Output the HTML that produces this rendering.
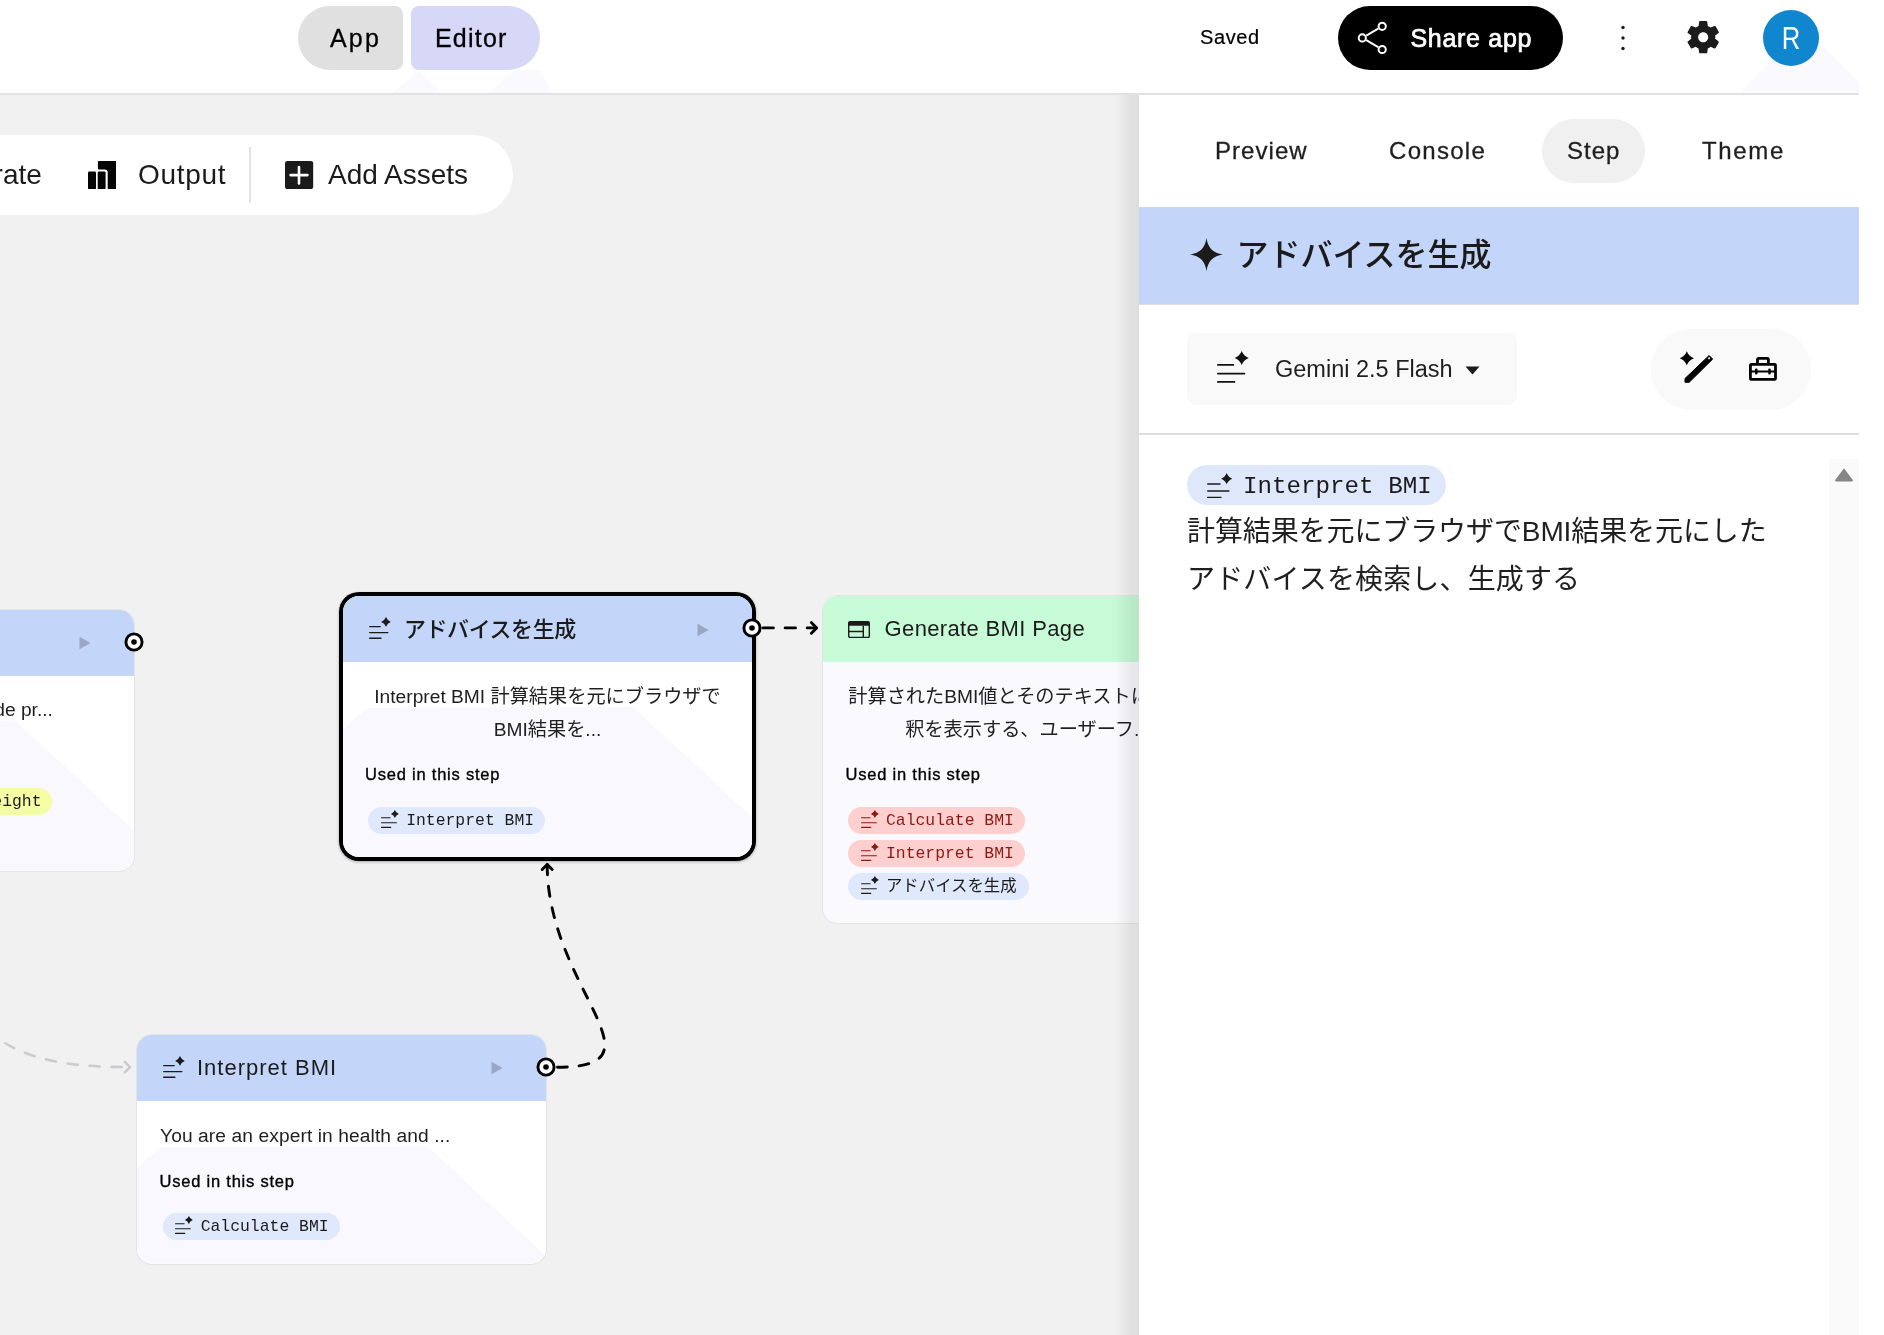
<!DOCTYPE html>
<html lang="ja">
<head>
<meta charset="utf-8">
<title>Opal Editor</title>
<style>
*{box-sizing:border-box;margin:0;padding:0}
html,body{width:1884px;height:1335px;overflow:hidden;background:#fff}
body{font-family:"Liberation Sans","Noto Sans CJK JP",sans-serif;color:#1b1b1b;position:relative}
.abs{position:absolute}
#stage{will-change:transform;position:absolute;left:0;top:0;width:1859px;height:1335px;overflow:hidden;background:#f1f1f1}
#header{position:absolute;left:0;top:0;width:1859px;height:95px;background:#fff;border-bottom:2px solid #e2e2e2;z-index:20}
.t{position:absolute;white-space:nowrap;line-height:1}
.mono{font-family:"Liberation Mono","Noto Sans CJK JP",monospace}
/* header */
#btn-app{left:298px;top:6px;width:105px;height:64px;background:#e0e0e0;border-radius:32px 8px 8px 32px}
#btn-editor{left:411px;top:6px;width:129px;height:64px;background:#d7d7f8;border-radius:8px 32px 32px 8px}
#btn-share{left:1338px;top:6px;width:225px;height:64px;background:#000;border-radius:32px}
#avatar{left:1763px;top:10px;width:56px;height:56px;border-radius:50%;background:#1086cf}
/* toolbar */
#toolbar{left:-60px;top:135px;width:573px;height:80px;border-radius:40px;background:#fff}
/* nodes */
.node{position:absolute;background:#fff;border-radius:15px;overflow:hidden;box-shadow:0 0 0 1px #e4e4e8}
.node .hd{position:absolute;left:0;top:0;right:0;height:66px}
.lav{position:absolute;left:0;top:0;width:100%;height:100%;background:#f8f8fe;clip-path:polygon(0 133px,24px 112px,calc(100% - 119px) 111px,100% 221px,100% 100%,0 100%)}
.blue{background:#c3d5f8}
.green{background:#c7fad6}
.chip{position:absolute;height:27px;border-radius:13.5px;background:#e0e9fc}
.chip.red{background:#fdcfcf;color:#8c1a12}
.chip .t{font-size:16.400px;top:6px}
.used{font-size:16.5px;color:#000;-webkit-text-stroke:0.35px #000;letter-spacing:0.78px}
.body-t{font-size:19.200px;color:#1f1f1f}
.title{font-size:22px;color:#1b1b1b;font-weight:500}
/* panel */
.tab{font-size:24px;color:#1f1f1f;-webkit-text-stroke:0.3px #1f1f1f}
#panel{position:absolute;left:1139px;top:95px;width:720px;height:1240px;background:#fff;z-index:10;}
</style>
</head>
<body>
<svg width="0" height="0" style="position:absolute">
  <defs>
    <symbol id="gen" viewBox="0 0 32 32">
      <path d="M0.950 13.900H16.300M0.950 22.600H27.400M0.950 30.900H17.400" stroke="currentColor" stroke-width="1.900" stroke-linecap="round" fill="none"/>
      <path d="M24.700 0.100Q26.600 5.200 31.700 7.100Q26.600 9 24.700 14.100Q22.800 9 17.700 7.100Q22.800 5.200 24.700 0.100z" fill="currentColor"/>
    </symbol>
    <symbol id="play" viewBox="0 0 12 14">
      <path d="M0.500 0.800L11.500 7L0.500 13.200z" fill="currentColor"/>
    </symbol>
    <symbol id="port" viewBox="0 0 20 20">
      <circle cx="10" cy="10" r="8.100" fill="#fff" stroke="#000" stroke-width="2.900"/>
      <circle cx="10" cy="10" r="2.800" fill="#000"/>
    </symbol>
  </defs>
</svg>

<div id="stage">
  <!-- CANVAS -->
  <div id="toolbar" class="abs"></div>
  <div class="t" style="left:-22px;top:161px;font-size:28px;">erate</div>
  <svg class="abs" style="left:87.500px;top:161px" width="28.500" height="28.300" viewBox="0 0 28.500 28.300" fill="#050505"><rect x="0" y="10.500" width="8" height="17.800" rx="1.200"/><rect x="9.700" y="10.500" width="7.900" height="17.800" rx="1.200"/><path d="M10.900 0H27.500a1 1 0 0 1 1 1V27.300a1 1 0 0 1-1 1H20.700a1 1 0 0 1-1-1V11.600a3 3 0 0 0-3-3H10.900a1 1 0 0 1-1-1V1a1 1 0 0 1 1-1z"/></svg>
  <div class="t" style="left:138px;top:161px;font-size:28px;letter-spacing:0.7px">Output</div>
  <div class="abs" style="left:248.500px;top:147px;width:2px;height:56px;background:#e2e2e2"></div>
  <svg class="abs" style="left:285.400px;top:161px" width="28.200" height="28.100" viewBox="0 0 28.200 28.100"><rect width="28.200" height="28.100" rx="2.300" fill="#1a1a1a"/><path d="M14 6v16.400M5.600 14.100h16.900" stroke="#fff" stroke-width="2.600" stroke-linecap="round"/></svg>
  <div class="t" style="left:328px;top:161px;font-size:28px;">Add Assets</div>

  <!-- edges -->
  <svg class="abs" style="left:0;top:0" width="1859" height="1335" viewBox="0 0 1859 1335" fill="none" stroke-linecap="round" stroke-linejoin="round">
    <g stroke="#cbcbcf" stroke-width="2.600">
      <path d="M129.800 1067.100C68 1067.100 0 1060.600 -30 1007.400" stroke-dasharray="10.200 11.800" stroke-dashoffset="13.900"/>
      <path d="M124.800 1061.900L130 1067.100L124.800 1072.300"/>
    </g>
    <g stroke="#000" stroke-width="2.900">
      <path d="M763 627.900H816.500" stroke-dasharray="10.400 11.700"/>
      <path d="M811.400 622.600L816.600 627.900L811.400 633.200"/>
      <path d="M547.200 864.500C547.200 988 669.500 1067.200 557.500 1067.200" stroke-dasharray="10.100 11.680"/>
      <path d="M542.200 869.500L547.200 864.500L552.200 869.500"/>
    </g>
  </svg>

  <!-- left node -->
  <div class="node" style="left:-276px;top:609.600px;width:410px;height:261px">
    <div class="lav"></div><div class="hd blue"></div>
    <svg class="abs" style="left:354.800px;top:26px;color:#9aa7c4" width="12" height="14"><use href="#play"/></svg>
    <div class="t body-t" style="left:266px;top:90px">ide pr...</div>
    <div class="chip" style="left:200px;top:178px;width:128px;background:#f5fda4"><span class="t mono" style="left:58.500px">weight</span></div>
  </div>
  <svg class="abs" style="left:123.800px;top:632.300px" width="20" height="20"><use href="#port"/></svg>

  <!-- selected node -->
  <div class="abs" style="left:339px;top:592px;width:417px;height:269px;border-radius:20px;background:#000;box-shadow:0 1px 3px rgba(0,0,0,0.3)"></div>
  <div class="node" style="left:343px;top:596px;width:409px;height:261px;box-shadow:none;border-radius:16px">
    <div class="lav"></div><div class="hd blue"></div>
    <svg class="abs" style="left:26px;top:21px;color:#1b1b1b" width="22" height="22"><use href="#gen"/></svg>
    <div class="t title" style="left:61px;top:22.500px;letter-spacing:-0.45px">アドバイスを生成</div>
    <svg class="abs" style="left:354px;top:26.500px;color:#9aa7c4" width="12" height="14"><use href="#play"/></svg>
    <div class="t body-t" style="left:0;width:409px;text-align:center;top:91px">Interpret BMI 計算結果を元にブラウザで</div>
    <div class="t body-t" style="left:0;width:409px;text-align:center;top:124px">BMI結果を...</div>
    <div class="t used" style="left:22px;top:170px">Used in this step</div>
    <div class="chip" style="left:25px;top:211px;width:177px">
      <svg class="abs" style="left:12.900px;top:3.100px" width="18" height="18"><use href="#gen"/></svg>
      <span class="t mono" style="left:38.200px">Interpret BMI</span>
    </div>
  </div>
  <svg class="abs" style="left:741.700px;top:617.900px" width="20" height="20"><use href="#port"/></svg>

  <!-- generate page node -->
  <div class="node" style="left:822.600px;top:596px;width:410px;height:327px">
    <div class="lav" style="clip-path:none;background:#f9f9fe"></div><div class="hd green"></div>
    <svg class="abs" style="left:25.400px;top:24.800px" width="22" height="17.200" viewBox="0 0 22 17.200"><rect x="0.700" y="0.700" width="20.600" height="15.800" rx="1.400" fill="none" stroke="#1b1b1b" stroke-width="1.400"/><path d="M0.700 0.700h20.600v4.100H0.700z" fill="#1b1b1b"/><path d="M0.700 10.500H15.300M15.300 4.800V16.500" stroke="#1b1b1b" stroke-width="1.400"/></svg>
    <div class="t title" style="left:62px;top:22px;letter-spacing:0.35px">Generate BMI Page</div>
    <div class="t body-t" style="left:0;width:410px;text-align:center;top:91px">計算されたBMI値とそのテキストによる解</div>
    <div class="t body-t" style="left:0;width:410px;text-align:center;top:124px">釈を表示する、ユーザーフ...</div>
    <div class="t used" style="left:23px;top:170px">Used in this step</div>
    <div class="chip red" style="left:25.200px;top:211px;width:177.500px">
      <svg class="abs" style="left:12.900px;top:3.100px" width="18" height="18"><use href="#gen"/></svg>
      <span class="t mono" style="left:38.200px">Calculate BMI</span>
    </div>
    <div class="chip red" style="left:25.200px;top:244px;width:177.500px">
      <svg class="abs" style="left:12.900px;top:3.100px" width="18" height="18"><use href="#gen"/></svg>
      <span class="t mono" style="left:38.200px">Interpret BMI</span>
    </div>
    <div class="chip" style="left:25.200px;top:277px;width:181px">
      <svg class="abs" style="left:12.900px;top:3.100px" width="18" height="18"><use href="#gen"/></svg>
      <span class="t mono" style="left:38.200px">アドバイスを生成</span>
    </div>
  </div>

  <!-- interpret node -->
  <div class="node" style="left:136.500px;top:1035px;width:409.500px;height:228.600px">
    <div class="lav"></div><div class="hd blue"></div>
    <svg class="abs" style="left:26px;top:21px;color:#1b1b1b" width="22" height="22"><use href="#gen"/></svg>
    <div class="t title" style="left:60.500px;top:22px;letter-spacing:1px">Interpret BMI</div>
    <svg class="abs" style="left:354.800px;top:26px;color:#9aa7c4" width="12" height="14"><use href="#play"/></svg>
    <div class="t body-t" style="left:23.500px;top:91px;letter-spacing:0.09px">You are an expert in health and ...</div>
    <div class="t used" style="left:23px;top:138px">Used in this step</div>
    <div class="chip" style="left:26px;top:178px;width:177px">
      <svg class="abs" style="left:12.900px;top:3.100px" width="18" height="18"><use href="#gen"/></svg>
      <span class="t mono" style="left:38.200px">Calculate BMI</span>
    </div>
  </div>
  <svg class="abs" style="left:535.900px;top:1057.100px" width="20" height="20"><use href="#port"/></svg>

  <div class="abs" style="left:1112px;top:95px;width:27px;height:1240px;z-index:9;background:linear-gradient(to right,rgba(0,0,0,0),rgba(0,0,0,0.012) 20%,rgba(0,0,0,0.04) 45%,rgba(0,0,0,0.065) 70%,rgba(0,0,0,0.078) 100%)"></div>
  <!-- SIDE PANEL -->
  <div id="panel">
    <!-- tabs (coords relative to panel: x-1139, y-95) -->
    <div class="abs" style="left:403px;top:24px;width:102.800px;height:64px;border-radius:32px;background:#f0f0f0"></div>
    <div class="t tab" style="left:76px;top:44px;letter-spacing:1.05px">Preview</div>
    <div class="t tab" style="left:250px;top:44px;letter-spacing:1.3px">Console</div>
    <div class="t tab" style="left:428px;top:44px;letter-spacing:1px">Step</div>
    <div class="t tab" style="left:563px;top:44px;letter-spacing:1.65px">Theme</div>
    <!-- title bar -->
    <div class="abs" style="left:0;top:112px;width:720px;height:97.800px;background:#c3d5f8;border-bottom:1.800px solid #dcdee4"></div>
    <svg class="abs" style="left:51px;top:143px" width="33" height="33" viewBox="0 0 32 32"><path d="M16 0C17.300 9.500 22.500 14.700 32 16C22.500 17.300 17.300 22.500 16 32C14.700 22.500 9.500 17.300 0 16C9.500 14.700 14.700 9.500 16 0z" fill="#1b1b1b"/></svg>
    <div class="t" style="left:97.500px;top:144px;font-size:32px;color:#1b1b1b;letter-spacing:0;font-weight:500">アドバイスを生成</div>
    <!-- model row -->
    <div class="abs" style="left:48px;top:238px;width:330px;height:72px;border-radius:9px;background:#f9f9f9"></div>
    <svg class="abs" style="left:77.900px;top:256.200px;color:#111" width="32" height="32"><use href="#gen"/></svg>
    <div class="t" style="left:136px;top:263px;font-size:23.500px;color:#1f1f1f">Gemini 2.5 Flash</div>
    <svg class="abs" style="left:326px;top:271px" width="15" height="9" viewBox="0 0 15 9"><path d="M0.500 0.500h14L7.500 8.500z" fill="#1b1b1b"/></svg>
    <div class="abs" style="left:512px;top:234px;width:160px;height:81px;border-radius:40px;background:#f9f9f9"></div>
    <svg class="abs" style="left:540px;top:256px" width="36" height="33" viewBox="0 0 36 33"><path d="M7.800 0.300Q9.700 5.400 14.900 7.300Q9.700 9.200 7.800 14.300Q5.900 9.200 0.800 7.300Q5.900 5.400 7.800 0.300z" fill="#000"/><path d="M30.100 4.500L33.700 8.100L10.200 31.300H6V27.500z" fill="#000" stroke="#000" stroke-width="1" stroke-linejoin="round"/><rect x="29.200" y="6.400" width="1.800" height="1.800" fill="#fff" transform="rotate(45 30.100 7.300)"/></svg>
    <svg class="abs" style="left:610.100px;top:262px" width="27.900" height="23.800" viewBox="0 0 27.900 23.800" fill="none" stroke="#000"><rect x="1.400" y="7.450" width="25.100" height="14.950" rx="0.800" stroke-width="2.800"/><path d="M8.500 7V2.400a1 1 0 0 1 1-1h8.900a1 1 0 0 1 1 1V7" stroke-width="2.800"/><path d="M1.400 14.500H26.500" stroke-width="2"/><path d="M7.300 12.700V16.300M20.500 12.700V16.300" stroke-width="2.600" stroke-linecap="round"/></svg>
    <div class="abs" style="left:0;top:338px;width:720px;height:2px;background:#dedede"></div>
    <!-- content -->
    <div class="abs" style="left:48px;top:370px;width:259px;height:40px;border-radius:20px;background:#dfe8fb"></div>
    <svg class="abs" style="left:68px;top:377.500px;color:#1b1b1b" width="25.500" height="25.500"><use href="#gen"/></svg>
    <div class="t mono" style="left:104px;top:379.500px;font-size:24.200px;color:#1b1b1b">Interpret BMI</div>
    <div class="t" style="left:48px;top:423px;font-size:28px;color:#1f1f1f;letter-spacing:-0.1px">計算結果を元にブラウザでBMI結果を元にした</div>
    <div class="t" style="left:48px;top:470.500px;font-size:28px;color:#1f1f1f;letter-spacing:0.15px">アドバイスを検索し、生成する</div>
    <!-- scrollbar -->
    <div class="abs" style="left:689.800px;top:363.500px;width:30.200px;height:880px;background:#fafafa"></div>
    <svg class="abs" style="left:695px;top:372px" width="20" height="15.500" viewBox="0 0 18 14"><path d="M9 1.200L16.800 11.500a1 1 0 0 1-.8 1.600H2a1 1 0 0 1-.8-1.600z" fill="#868686"/></svg>
  </div>

  <!-- HEADER -->
  <div id="header">
    <svg class="abs" style="left:0;top:0" width="1859" height="93" viewBox="0 0 1859 93"><path d="M393 93L419 70.500L441 93zM488 93L515 70L540 70L553 93zM1739 93L1790 42L1820 43.400L1859 82.500V93z" fill="#f9f9fe"/></svg>
    <div id="btn-app" class="abs"></div>
    <div class="t" style="left:330px;top:26px;font-size:25px;color:#000;letter-spacing:2.2px;-webkit-text-stroke:0.3px #000">App</div>
    <div id="btn-editor" class="abs"></div>
    <div class="t" style="left:435px;top:26px;font-size:25px;color:#000;letter-spacing:1.2px;-webkit-text-stroke:0.3px #000">Editor</div>
    <div class="t" style="left:1200px;top:27px;font-size:20px;color:#000;letter-spacing:0.6px;-webkit-text-stroke:0.2px #000">Saved</div>
    <div id="btn-share" class="abs"></div>
    <div class="t" style="left:1410.500px;top:26px;font-size:25px;color:#fff;-webkit-text-stroke:0.7px #fff;letter-spacing:0.7px">Share app</div>
    <svg class="abs" style="left:1356px;top:20px" width="32" height="36" viewBox="0 0 32 36" fill="none" stroke="#fff" stroke-width="2"><path d="M10.300 15.600L22.200 8.600M10.300 20.200L22.200 27.200"/><circle cx="26.200" cy="6.300" r="3.600"/><circle cx="6.300" cy="17.900" r="3.600"/><circle cx="26.200" cy="29.500" r="3.600"/></svg>
    <svg class="abs" style="left:1619px;top:24px" width="8" height="28" viewBox="0 0 8 28" fill="#1b1b1b"><circle cx="4" cy="3.500" r="1.700"/><circle cx="4" cy="14" r="1.700"/><circle cx="4" cy="24.500" r="1.700"/></svg>
    <svg class="abs" style="left:1682.800px;top:16.700px" width="40.400" height="40.400" viewBox="0 0 24 24"><path fill="#1b1b1b" d="M19.140 12.940c.04-.3.060-.610.060-.940 0-.320-.020-.640-.070-.940l2.030-1.580c.180-.140.230-.410.120-.610l-1.920-3.320c-.120-.220-.370-.290-.590-.220l-2.390.96c-.5-.38-1.030-.7-1.620-.94l-.36-2.540c-.04-.24-.24-.41-.48-.41h-3.840c-.24 0-.43.170-.47.410l-.36 2.540c-.59.240-1.130.570-1.620.940l-2.390-.96c-.22-.08-.47 0-.59.220L2.740 8.870c-.12.210-.08.470.12.610l2.030 1.580c-.05.3-.09.630-.09.940s.02.640.07.940l-2.030 1.580c-.18.140-.23.410-.12.610l1.920 3.320c.12.220.37.290.59.220l2.390-.96c.5.380 1.030.7 1.620.94l.36 2.540c.05.240.24.410.48.410h3.840c.24 0 .44-.17.470-.41l.36-2.540c.59-.24 1.130-.56 1.620-.94l2.390.96c.22.080.47 0 .59-.22l1.920-3.320c.12-.22.070-.47-.12-.61l-2.010-1.580zM12 15c-1.650 0-3-1.350-3-3s1.350-3 3-3 3 1.350 3 3-1.350 3-3 3z"/></svg>
    <div id="avatar" class="abs"></div>
    <div class="t" style="left:1763px;top:23px;width:56px;text-align:center;font-size:30.500px;color:#fff;transform:scaleX(0.84)">R</div>
  </div>
</div>
</body>
</html>
